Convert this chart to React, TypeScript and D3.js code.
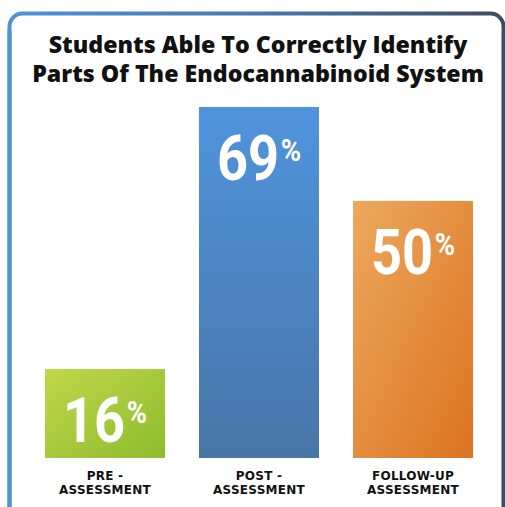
import React from "react";
import * as d3 from "d3";

const categories = ["pre", "post", "follow"];
const labelLines = [["PRE -", "ASSESSMENT"], ["POST -", "ASSESSMENT"], ["FOLLOW-UP", "ASSESSMENT"]];
const values = [16, 69, 50];
const titleLines = ["Students Able To Correctly Identify", "Parts Of The Endocannabinoid System"];
const gradIds = ["gGreen", "gBlue", "gOrange"];

export default function App() {
  const W = 505, H = 507;
  const x = d3.scaleBand<string>().domain(categories).range([45, 473]).paddingInner(34 / 154).paddingOuter(0);
  const y = d3.scaleLinear().domain([-2, 69]).range([458, 107]);
  return (
    <svg width={W} height={H} style={{ position: "absolute", left: 0, top: 0 }}>
      <defs>
        <linearGradient id="border" x1="0" y1="0" x2="1" y2="0">
          <stop offset="0" stopColor="#4d93dc" />
          <stop offset="0.5" stopColor="#4778b0" />
          <stop offset="1" stopColor="#3f4c5e" />
        </linearGradient>
        <linearGradient id="gGreen" x1="0" y1="0" x2="1" y2="1">
          <stop offset="0" stopColor="#c1d74a" />
          <stop offset="1" stopColor="#8dbc2e" />
        </linearGradient>
        <linearGradient id="gBlue" x1="0" y1="0" x2="0" y2="1">
          <stop offset="0" stopColor="#5094dd" />
          <stop offset="1" stopColor="#4875a7" />
        </linearGradient>
        <linearGradient id="gOrange" x1="0" y1="0" x2="1" y2="1">
          <stop offset="0" stopColor="#eca95e" />
          <stop offset="1" stopColor="#dc7320" />
        </linearGradient>
      </defs>
      <rect x={0} y={0} width={W} height={H} fill="#fff" />
      <rect x={9.5} y={13.5} width={494} height={560} rx={13} ry={13} fill="#fff" stroke="url(#border)" strokeWidth={4} />
      <rect x={7.5} y={30} width={4} height={H} fill="#4d93dc" />
      {titleLines.map((t, i) => (
        <text key={i} x={258} y={52.5 + i * 29.5} textAnchor="middle" fontFamily="'Open Sans', sans-serif" fontWeight={800} fontSize={23.2} fill="#111">{t}</text>
      ))}
      {categories.map((c, i) => {
        const bx = x(c)!;
        const bw = x.bandwidth();
        const top = y(values[i]);
        const cx = bx + bw / 2;
        return (
          <g key={c}>
            <rect x={bx} y={top} width={bw} height={y(-2) - top} fill={`url(#${gradIds[i]})`} />
            <text transform={`translate(${cx},${top + 73}) scale(0.86,1)`} textAnchor="middle" fontFamily="Roboto, sans-serif" fontWeight={700} fill="#fff">
              <tspan fontSize={63}>{values[i]}</tspan>
              <tspan fontSize={32} dx={2} dy={-19}>%</tspan>
            </text>
            {labelLines[i].map((l, j) => (
              <text key={j} x={cx} y={479.5 + j * 14} textAnchor="middle" fontFamily="'DejaVu Sans', sans-serif" fontWeight={700} fontSize={12} letterSpacing={0.25} fill="#111">{l}</text>
            ))}
          </g>
        );
      })}
    </svg>
  );
}
